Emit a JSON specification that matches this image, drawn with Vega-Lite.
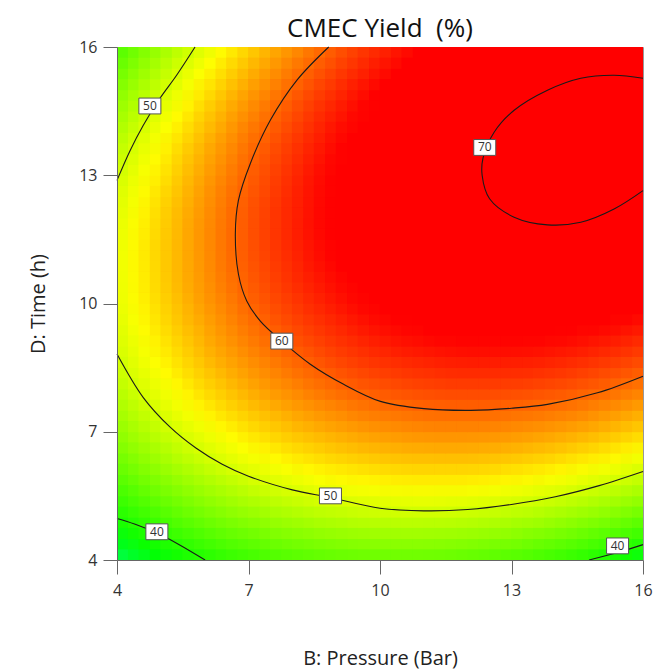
{
  "$schema": "https://vega.github.io/schema/vega-lite/v6.json",
  "width": 526,
  "height": 513,
  "autosize": {"type": "none"},
  "padding": {"left": 117, "top": 47, "right": 12, "bottom": 112},
  "title": {"text": "CMEC Yield\u00a0 (%)", "fontSize": 26, "font": "Open Sans", "fontWeight": "normal", "color": "#111", "anchor": "middle", "baseline": "alphabetic", "offset": 10, "dy": 34},
  "config": {"view": {"stroke": null}, "font": "Open Sans"},
  "datasets": {
    "grid": [
{"b":4.25,"d":4.25,"y":37.6},{"b":4.75,"d":4.25,"y":38.8},{"b":5.25,"d":4.25,"y":39.9},{"b":5.75,"d":4.25,"y":40.9},{"b":6.25,"d":4.25,"y":41.8},{"b":6.75,"d":4.25,"y":42.6},{"b":7.25,"d":4.25,"y":43.3},{"b":7.75,"d":4.25,"y":43.9},{"b":8.25,"d":4.25,"y":44.4},{"b":8.75,"d":4.25,"y":44.8},{"b":9.25,"d":4.25,"y":45.1},{"b":9.75,"d":4.25,"y":45.3},{"b":10.25,"d":4.25,"y":45.4},{"b":10.75,"d":4.25,"y":45.4},{"b":11.25,"d":4.25,"y":45.3},{"b":11.75,"d":4.25,"y":45.1},{"b":12.25,"d":4.25,"y":44.8},{"b":12.75,"d":4.25,"y":44.4},{"b":13.25,"d":4.25,"y":44.0},{"b":13.75,"d":4.25,"y":43.4},{"b":14.25,"d":4.25,"y":42.7},{"b":14.75,"d":4.25,"y":41.9},{"b":15.25,"d":4.25,"y":41.0},{"b":15.75,"d":4.25,"y":40.1},
{"b":4.25,"d":4.75,"y":39.7},{"b":4.75,"d":4.75,"y":40.9},{"b":5.25,"d":4.75,"y":42.1},{"b":5.75,"d":4.75,"y":43.1},{"b":6.25,"d":4.75,"y":44.1},{"b":6.75,"d":4.75,"y":44.9},{"b":7.25,"d":4.75,"y":45.6},{"b":7.75,"d":4.75,"y":46.3},{"b":8.25,"d":4.75,"y":46.8},{"b":8.75,"d":4.75,"y":47.3},{"b":9.25,"d":4.75,"y":47.6},{"b":9.75,"d":4.75,"y":47.9},{"b":10.25,"d":4.75,"y":48.0},{"b":10.75,"d":4.75,"y":48.1},{"b":11.25,"d":4.75,"y":48.0},{"b":11.75,"d":4.75,"y":47.9},{"b":12.25,"d":4.75,"y":47.6},{"b":12.75,"d":4.75,"y":47.3},{"b":13.25,"d":4.75,"y":46.8},{"b":13.75,"d":4.75,"y":46.3},{"b":14.25,"d":4.75,"y":45.7},{"b":14.75,"d":4.75,"y":44.9},{"b":15.25,"d":4.75,"y":44.1},{"b":15.75,"d":4.75,"y":43.1},
{"b":4.25,"d":5.25,"y":41.7},{"b":4.75,"d":5.25,"y":42.9},{"b":5.25,"d":5.25,"y":44.1},{"b":5.75,"d":5.25,"y":45.2},{"b":6.25,"d":5.25,"y":46.2},{"b":6.75,"d":5.25,"y":47.1},{"b":7.25,"d":5.25,"y":47.8},{"b":7.75,"d":5.25,"y":48.5},{"b":8.25,"d":5.25,"y":49.1},{"b":8.75,"d":5.25,"y":49.6},{"b":9.25,"d":5.25,"y":50.0},{"b":9.75,"d":5.25,"y":50.3},{"b":10.25,"d":5.25,"y":50.5},{"b":10.75,"d":5.25,"y":50.6},{"b":11.25,"d":5.25,"y":50.6},{"b":11.75,"d":5.25,"y":50.4},{"b":12.25,"d":5.25,"y":50.2},{"b":12.75,"d":5.25,"y":49.9},{"b":13.25,"d":5.25,"y":49.5},{"b":13.75,"d":5.25,"y":49.0},{"b":14.25,"d":5.25,"y":48.4},{"b":14.75,"d":5.25,"y":47.8},{"b":15.25,"d":5.25,"y":47.0},{"b":15.75,"d":5.25,"y":46.1},
{"b":4.25,"d":5.75,"y":43.4},{"b":4.75,"d":5.75,"y":44.8},{"b":5.25,"d":5.75,"y":46.0},{"b":5.75,"d":5.75,"y":47.1},{"b":6.25,"d":5.75,"y":48.1},{"b":6.75,"d":5.75,"y":49.0},{"b":7.25,"d":5.75,"y":49.9},{"b":7.75,"d":5.75,"y":50.6},{"b":8.25,"d":5.75,"y":51.2},{"b":8.75,"d":5.75,"y":51.8},{"b":9.25,"d":5.75,"y":52.2},{"b":9.75,"d":5.75,"y":52.5},{"b":10.25,"d":5.75,"y":52.8},{"b":10.75,"d":5.75,"y":52.9},{"b":11.25,"d":5.75,"y":52.9},{"b":11.75,"d":5.75,"y":52.9},{"b":12.25,"d":5.75,"y":52.7},{"b":12.75,"d":5.75,"y":52.4},{"b":13.25,"d":5.75,"y":52.1},{"b":13.75,"d":5.75,"y":51.6},{"b":14.25,"d":5.75,"y":51.1},{"b":14.75,"d":5.75,"y":50.4},{"b":15.25,"d":5.75,"y":49.7},{"b":15.75,"d":5.75,"y":48.8},
{"b":4.25,"d":6.25,"y":45.0},{"b":4.75,"d":6.25,"y":46.4},{"b":5.25,"d":6.25,"y":47.7},{"b":5.75,"d":6.25,"y":48.8},{"b":6.25,"d":6.25,"y":49.9},{"b":6.75,"d":6.25,"y":50.9},{"b":7.25,"d":6.25,"y":51.7},{"b":7.75,"d":6.25,"y":52.5},{"b":8.25,"d":6.25,"y":53.2},{"b":8.75,"d":6.25,"y":53.8},{"b":9.25,"d":6.25,"y":54.2},{"b":9.75,"d":6.25,"y":54.6},{"b":10.25,"d":6.25,"y":54.9},{"b":10.75,"d":6.25,"y":55.1},{"b":11.25,"d":6.25,"y":55.1},{"b":11.75,"d":6.25,"y":55.1},{"b":12.25,"d":6.25,"y":55.0},{"b":12.75,"d":6.25,"y":54.8},{"b":13.25,"d":6.25,"y":54.5},{"b":13.75,"d":6.25,"y":54.1},{"b":14.25,"d":6.25,"y":53.5},{"b":14.75,"d":6.25,"y":52.9},{"b":15.25,"d":6.25,"y":52.2},{"b":15.75,"d":6.25,"y":51.4},
{"b":4.25,"d":6.75,"y":46.5},{"b":4.75,"d":6.75,"y":47.9},{"b":5.25,"d":6.75,"y":49.2},{"b":5.75,"d":6.75,"y":50.4},{"b":6.25,"d":6.75,"y":51.5},{"b":6.75,"d":6.75,"y":52.5},{"b":7.25,"d":6.75,"y":53.4},{"b":7.75,"d":6.75,"y":54.3},{"b":8.25,"d":6.75,"y":55.0},{"b":8.75,"d":6.75,"y":55.6},{"b":9.25,"d":6.75,"y":56.1},{"b":9.75,"d":6.75,"y":56.5},{"b":10.25,"d":6.75,"y":56.8},{"b":10.75,"d":6.75,"y":57.1},{"b":11.25,"d":6.75,"y":57.2},{"b":11.75,"d":6.75,"y":57.2},{"b":12.25,"d":6.75,"y":57.1},{"b":12.75,"d":6.75,"y":57.0},{"b":13.25,"d":6.75,"y":56.7},{"b":13.75,"d":6.75,"y":56.3},{"b":14.25,"d":6.75,"y":55.9},{"b":14.75,"d":6.75,"y":55.3},{"b":15.25,"d":6.75,"y":54.6},{"b":15.75,"d":6.75,"y":53.8},
{"b":4.25,"d":7.25,"y":47.8},{"b":4.75,"d":7.25,"y":49.2},{"b":5.25,"d":7.25,"y":50.6},{"b":5.75,"d":7.25,"y":51.8},{"b":6.25,"d":7.25,"y":53.0},{"b":6.75,"d":7.25,"y":54.0},{"b":7.25,"d":7.25,"y":55.0},{"b":7.75,"d":7.25,"y":55.8},{"b":8.25,"d":7.25,"y":56.6},{"b":8.75,"d":7.25,"y":57.3},{"b":9.25,"d":7.25,"y":57.8},{"b":9.75,"d":7.25,"y":58.3},{"b":10.25,"d":7.25,"y":58.6},{"b":10.75,"d":7.25,"y":58.9},{"b":11.25,"d":7.25,"y":59.1},{"b":11.75,"d":7.25,"y":59.1},{"b":12.25,"d":7.25,"y":59.1},{"b":12.75,"d":7.25,"y":59.0},{"b":13.25,"d":7.25,"y":58.7},{"b":13.75,"d":7.25,"y":58.4},{"b":14.25,"d":7.25,"y":58.0},{"b":14.75,"d":7.25,"y":57.5},{"b":15.25,"d":7.25,"y":56.8},{"b":15.75,"d":7.25,"y":56.1},
{"b":4.25,"d":7.75,"y":48.9},{"b":4.75,"d":7.75,"y":50.4},{"b":5.25,"d":7.75,"y":51.8},{"b":5.75,"d":7.75,"y":53.1},{"b":6.25,"d":7.75,"y":54.3},{"b":6.75,"d":7.75,"y":55.4},{"b":7.25,"d":7.75,"y":56.4},{"b":7.75,"d":7.75,"y":57.3},{"b":8.25,"d":7.75,"y":58.1},{"b":8.75,"d":7.75,"y":58.8},{"b":9.25,"d":7.75,"y":59.4},{"b":9.75,"d":7.75,"y":59.9},{"b":10.25,"d":7.75,"y":60.3},{"b":10.75,"d":7.75,"y":60.6},{"b":11.25,"d":7.75,"y":60.8},{"b":11.75,"d":7.75,"y":60.9},{"b":12.25,"d":7.75,"y":60.9},{"b":12.75,"d":7.75,"y":60.8},{"b":13.25,"d":7.75,"y":60.6},{"b":13.75,"d":7.75,"y":60.3},{"b":14.25,"d":7.75,"y":60.0},{"b":14.75,"d":7.75,"y":59.5},{"b":15.25,"d":7.75,"y":58.9},{"b":15.75,"d":7.75,"y":58.2},
{"b":4.25,"d":8.25,"y":49.9},{"b":4.75,"d":8.25,"y":51.4},{"b":5.25,"d":8.25,"y":52.8},{"b":5.75,"d":8.25,"y":54.2},{"b":6.25,"d":8.25,"y":55.4},{"b":6.75,"d":8.25,"y":56.5},{"b":7.25,"d":8.25,"y":57.6},{"b":7.75,"d":8.25,"y":58.5},{"b":8.25,"d":8.25,"y":59.4},{"b":8.75,"d":8.25,"y":60.1},{"b":9.25,"d":8.25,"y":60.8},{"b":9.75,"d":8.25,"y":61.3},{"b":10.25,"d":8.25,"y":61.7},{"b":10.75,"d":8.25,"y":62.1},{"b":11.25,"d":8.25,"y":62.3},{"b":11.75,"d":8.25,"y":62.5},{"b":12.25,"d":8.25,"y":62.5},{"b":12.75,"d":8.25,"y":62.5},{"b":13.25,"d":8.25,"y":62.4},{"b":13.75,"d":8.25,"y":62.1},{"b":14.25,"d":8.25,"y":61.8},{"b":14.75,"d":8.25,"y":61.3},{"b":15.25,"d":8.25,"y":60.8},{"b":15.75,"d":8.25,"y":60.2},
{"b":4.25,"d":8.75,"y":50.7},{"b":4.75,"d":8.75,"y":52.2},{"b":5.25,"d":8.75,"y":53.7},{"b":5.75,"d":8.75,"y":55.1},{"b":6.25,"d":8.75,"y":56.4},{"b":6.75,"d":8.75,"y":57.5},{"b":7.25,"d":8.75,"y":58.6},{"b":7.75,"d":8.75,"y":59.6},{"b":8.25,"d":8.75,"y":60.5},{"b":8.75,"d":8.75,"y":61.3},{"b":9.25,"d":8.75,"y":62.0},{"b":9.75,"d":8.75,"y":62.6},{"b":10.25,"d":8.75,"y":63.0},{"b":10.75,"d":8.75,"y":63.4},{"b":11.25,"d":8.75,"y":63.7},{"b":11.75,"d":8.75,"y":63.9},{"b":12.25,"d":8.75,"y":64.0},{"b":12.75,"d":8.75,"y":64.0},{"b":13.25,"d":8.75,"y":63.9},{"b":13.75,"d":8.75,"y":63.7},{"b":14.25,"d":8.75,"y":63.4},{"b":14.75,"d":8.75,"y":63.0},{"b":15.25,"d":8.75,"y":62.5},{"b":15.75,"d":8.75,"y":61.9},
{"b":4.25,"d":9.25,"y":51.3},{"b":4.75,"d":9.25,"y":52.9},{"b":5.25,"d":9.25,"y":54.4},{"b":5.75,"d":9.25,"y":55.8},{"b":6.25,"d":9.25,"y":57.2},{"b":6.75,"d":9.25,"y":58.4},{"b":7.25,"d":9.25,"y":59.5},{"b":7.75,"d":9.25,"y":60.5},{"b":8.25,"d":9.25,"y":61.5},{"b":8.75,"d":9.25,"y":62.3},{"b":9.25,"d":9.25,"y":63.0},{"b":9.75,"d":9.25,"y":63.7},{"b":10.25,"d":9.25,"y":64.2},{"b":10.75,"d":9.25,"y":64.6},{"b":11.25,"d":9.25,"y":65.0},{"b":11.75,"d":9.25,"y":65.2},{"b":12.25,"d":9.25,"y":65.3},{"b":12.75,"d":9.25,"y":65.4},{"b":13.25,"d":9.25,"y":65.3},{"b":13.75,"d":9.25,"y":65.2},{"b":14.25,"d":9.25,"y":64.9},{"b":14.75,"d":9.25,"y":64.5},{"b":15.25,"d":9.25,"y":64.1},{"b":15.75,"d":9.25,"y":63.5},
{"b":4.25,"d":9.75,"y":51.8},{"b":4.75,"d":9.75,"y":53.4},{"b":5.25,"d":9.75,"y":55.0},{"b":5.75,"d":9.75,"y":56.4},{"b":6.25,"d":9.75,"y":57.8},{"b":6.75,"d":9.75,"y":59.1},{"b":7.25,"d":9.75,"y":60.2},{"b":7.75,"d":9.75,"y":61.3},{"b":8.25,"d":9.75,"y":62.3},{"b":8.75,"d":9.75,"y":63.1},{"b":9.25,"d":9.75,"y":63.9},{"b":9.75,"d":9.75,"y":64.6},{"b":10.25,"d":9.75,"y":65.2},{"b":10.75,"d":9.75,"y":65.6},{"b":11.25,"d":9.75,"y":66.0},{"b":11.75,"d":9.75,"y":66.3},{"b":12.25,"d":9.75,"y":66.5},{"b":12.75,"d":9.75,"y":66.6},{"b":13.25,"d":9.75,"y":66.5},{"b":13.75,"d":9.75,"y":66.4},{"b":14.25,"d":9.75,"y":66.2},{"b":14.75,"d":9.75,"y":65.9},{"b":15.25,"d":9.75,"y":65.5},{"b":15.75,"d":9.75,"y":65.0},
{"b":4.25,"d":10.25,"y":52.1},{"b":4.75,"d":10.25,"y":53.8},{"b":5.25,"d":10.25,"y":55.4},{"b":5.75,"d":10.25,"y":56.9},{"b":6.25,"d":10.25,"y":58.3},{"b":6.75,"d":10.25,"y":59.6},{"b":7.25,"d":10.25,"y":60.8},{"b":7.75,"d":10.25,"y":61.9},{"b":8.25,"d":10.25,"y":62.9},{"b":8.75,"d":10.25,"y":63.8},{"b":9.25,"d":10.25,"y":64.6},{"b":9.75,"d":10.25,"y":65.4},{"b":10.25,"d":10.25,"y":66.0},{"b":10.75,"d":10.25,"y":66.5},{"b":11.25,"d":10.25,"y":66.9},{"b":11.75,"d":10.25,"y":67.2},{"b":12.25,"d":10.25,"y":67.5},{"b":12.75,"d":10.25,"y":67.6},{"b":13.25,"d":10.25,"y":67.6},{"b":13.75,"d":10.25,"y":67.5},{"b":14.25,"d":10.25,"y":67.4},{"b":14.75,"d":10.25,"y":67.1},{"b":15.25,"d":10.25,"y":66.7},{"b":15.75,"d":10.25,"y":66.3},
{"b":4.25,"d":10.75,"y":52.2},{"b":4.75,"d":10.75,"y":53.9},{"b":5.25,"d":10.75,"y":55.6},{"b":5.75,"d":10.75,"y":57.1},{"b":6.25,"d":10.75,"y":58.6},{"b":6.75,"d":10.75,"y":59.9},{"b":7.25,"d":10.75,"y":61.2},{"b":7.75,"d":10.75,"y":62.3},{"b":8.25,"d":10.75,"y":63.4},{"b":8.75,"d":10.75,"y":64.3},{"b":9.25,"d":10.75,"y":65.2},{"b":9.75,"d":10.75,"y":66.0},{"b":10.25,"d":10.75,"y":66.6},{"b":10.75,"d":10.75,"y":67.2},{"b":11.25,"d":10.75,"y":67.6},{"b":11.75,"d":10.75,"y":68.0},{"b":12.25,"d":10.75,"y":68.3},{"b":12.75,"d":10.75,"y":68.4},{"b":13.25,"d":10.75,"y":68.5},{"b":13.75,"d":10.75,"y":68.5},{"b":14.25,"d":10.75,"y":68.4},{"b":14.75,"d":10.75,"y":68.1},{"b":15.25,"d":10.75,"y":67.8},{"b":15.75,"d":10.75,"y":67.4},
{"b":4.25,"d":11.25,"y":52.2},{"b":4.75,"d":11.25,"y":54.0},{"b":5.25,"d":11.25,"y":55.6},{"b":5.75,"d":11.25,"y":57.2},{"b":6.25,"d":11.25,"y":58.7},{"b":6.75,"d":11.25,"y":60.1},{"b":7.25,"d":11.25,"y":61.4},{"b":7.75,"d":11.25,"y":62.6},{"b":8.25,"d":11.25,"y":63.7},{"b":8.75,"d":11.25,"y":64.7},{"b":9.25,"d":11.25,"y":65.6},{"b":9.75,"d":11.25,"y":66.4},{"b":10.25,"d":11.25,"y":67.1},{"b":10.75,"d":11.25,"y":67.7},{"b":11.25,"d":11.25,"y":68.2},{"b":11.75,"d":11.25,"y":68.6},{"b":12.25,"d":11.25,"y":68.9},{"b":12.75,"d":11.25,"y":69.1},{"b":13.25,"d":11.25,"y":69.3},{"b":13.75,"d":11.25,"y":69.3},{"b":14.25,"d":11.25,"y":69.2},{"b":14.75,"d":11.25,"y":69.0},{"b":15.25,"d":11.25,"y":68.7},{"b":15.75,"d":11.25,"y":68.3},
{"b":4.25,"d":11.75,"y":52.0},{"b":4.75,"d":11.75,"y":53.8},{"b":5.25,"d":11.75,"y":55.5},{"b":5.75,"d":11.75,"y":57.2},{"b":6.25,"d":11.75,"y":58.7},{"b":6.75,"d":11.75,"y":60.1},{"b":7.25,"d":11.75,"y":61.5},{"b":7.75,"d":11.75,"y":62.7},{"b":8.25,"d":11.75,"y":63.9},{"b":8.75,"d":11.75,"y":64.9},{"b":9.25,"d":11.75,"y":65.8},{"b":9.75,"d":11.75,"y":66.7},{"b":10.25,"d":11.75,"y":67.4},{"b":10.75,"d":11.75,"y":68.1},{"b":11.25,"d":11.75,"y":68.6},{"b":11.75,"d":11.75,"y":69.1},{"b":12.25,"d":11.75,"y":69.4},{"b":12.75,"d":11.75,"y":69.7},{"b":13.25,"d":11.75,"y":69.8},{"b":13.75,"d":11.75,"y":69.9},{"b":14.25,"d":11.75,"y":69.8},{"b":14.75,"d":11.75,"y":69.7},{"b":15.25,"d":11.75,"y":69.5},{"b":15.75,"d":11.75,"y":69.1},
{"b":4.25,"d":12.25,"y":51.6},{"b":4.75,"d":12.25,"y":53.5},{"b":5.25,"d":12.25,"y":55.3},{"b":5.75,"d":12.25,"y":56.9},{"b":6.25,"d":12.25,"y":58.5},{"b":6.75,"d":12.25,"y":60.0},{"b":7.25,"d":12.25,"y":61.4},{"b":7.75,"d":12.25,"y":62.7},{"b":8.25,"d":12.25,"y":63.8},{"b":8.75,"d":12.25,"y":64.9},{"b":9.25,"d":12.25,"y":65.9},{"b":9.75,"d":12.25,"y":66.8},{"b":10.25,"d":12.25,"y":67.6},{"b":10.75,"d":12.25,"y":68.3},{"b":11.25,"d":12.25,"y":68.9},{"b":11.75,"d":12.25,"y":69.3},{"b":12.25,"d":12.25,"y":69.7},{"b":12.75,"d":12.25,"y":70.0},{"b":13.25,"d":12.25,"y":70.2},{"b":13.75,"d":12.25,"y":70.3},{"b":14.25,"d":12.25,"y":70.3},{"b":14.75,"d":12.25,"y":70.2},{"b":15.25,"d":12.25,"y":70.0},{"b":15.75,"d":12.25,"y":69.7},
{"b":4.25,"d":12.75,"y":51.1},{"b":4.75,"d":12.75,"y":53.0},{"b":5.25,"d":12.75,"y":54.8},{"b":5.75,"d":12.75,"y":56.5},{"b":6.25,"d":12.75,"y":58.2},{"b":6.75,"d":12.75,"y":59.7},{"b":7.25,"d":12.75,"y":61.1},{"b":7.75,"d":12.75,"y":62.4},{"b":8.25,"d":12.75,"y":63.7},{"b":8.75,"d":12.75,"y":64.8},{"b":9.25,"d":12.75,"y":65.8},{"b":9.75,"d":12.75,"y":66.7},{"b":10.25,"d":12.75,"y":67.6},{"b":10.75,"d":12.75,"y":68.3},{"b":11.25,"d":12.75,"y":68.9},{"b":11.75,"d":12.75,"y":69.5},{"b":12.25,"d":12.75,"y":69.9},{"b":12.75,"d":12.75,"y":70.2},{"b":13.25,"d":12.75,"y":70.5},{"b":13.75,"d":12.75,"y":70.6},{"b":14.25,"d":12.75,"y":70.7},{"b":14.75,"d":12.75,"y":70.6},{"b":15.25,"d":12.75,"y":70.4},{"b":15.75,"d":12.75,"y":70.2},
{"b":4.25,"d":13.25,"y":50.4},{"b":4.75,"d":13.25,"y":52.4},{"b":5.25,"d":13.25,"y":54.2},{"b":5.75,"d":13.25,"y":56.0},{"b":6.25,"d":13.25,"y":57.6},{"b":6.75,"d":13.25,"y":59.2},{"b":7.25,"d":13.25,"y":60.7},{"b":7.75,"d":13.25,"y":62.0},{"b":8.25,"d":13.25,"y":63.3},{"b":8.75,"d":13.25,"y":64.5},{"b":9.25,"d":13.25,"y":65.5},{"b":9.75,"d":13.25,"y":66.5},{"b":10.25,"d":13.25,"y":67.4},{"b":10.75,"d":13.25,"y":68.2},{"b":11.25,"d":13.25,"y":68.8},{"b":11.75,"d":13.25,"y":69.4},{"b":12.25,"d":13.25,"y":69.9},{"b":12.75,"d":13.25,"y":70.3},{"b":13.25,"d":13.25,"y":70.6},{"b":13.75,"d":13.25,"y":70.7},{"b":14.25,"d":13.25,"y":70.8},{"b":14.75,"d":13.25,"y":70.8},{"b":15.25,"d":13.25,"y":70.7},{"b":15.75,"d":13.25,"y":70.5},
{"b":4.25,"d":13.75,"y":49.6},{"b":4.75,"d":13.75,"y":51.6},{"b":5.25,"d":13.75,"y":53.5},{"b":5.75,"d":13.75,"y":55.3},{"b":6.25,"d":13.75,"y":57.0},{"b":6.75,"d":13.75,"y":58.6},{"b":7.25,"d":13.75,"y":60.1},{"b":7.75,"d":13.75,"y":61.5},{"b":8.25,"d":13.75,"y":62.8},{"b":8.75,"d":13.75,"y":64.0},{"b":9.25,"d":13.75,"y":65.1},{"b":9.75,"d":13.75,"y":66.1},{"b":10.25,"d":13.75,"y":67.1},{"b":10.75,"d":13.75,"y":67.9},{"b":11.25,"d":13.75,"y":68.6},{"b":11.75,"d":13.75,"y":69.2},{"b":12.25,"d":13.75,"y":69.7},{"b":12.75,"d":13.75,"y":70.1},{"b":13.25,"d":13.75,"y":70.5},{"b":13.75,"d":13.75,"y":70.7},{"b":14.25,"d":13.75,"y":70.8},{"b":14.75,"d":13.75,"y":70.9},{"b":15.25,"d":13.75,"y":70.8},{"b":15.75,"d":13.75,"y":70.6},
{"b":4.25,"d":14.25,"y":48.5},{"b":4.75,"d":14.25,"y":50.6},{"b":5.25,"d":14.25,"y":52.5},{"b":5.75,"d":14.25,"y":54.4},{"b":6.25,"d":14.25,"y":56.1},{"b":6.75,"d":14.25,"y":57.8},{"b":7.25,"d":14.25,"y":59.3},{"b":7.75,"d":14.25,"y":60.8},{"b":8.25,"d":14.25,"y":62.1},{"b":8.75,"d":14.25,"y":63.4},{"b":9.25,"d":14.25,"y":64.5},{"b":9.75,"d":14.25,"y":65.6},{"b":10.25,"d":14.25,"y":66.5},{"b":10.75,"d":14.25,"y":67.4},{"b":11.25,"d":14.25,"y":68.2},{"b":11.75,"d":14.25,"y":68.8},{"b":12.25,"d":14.25,"y":69.4},{"b":12.75,"d":14.25,"y":69.9},{"b":13.25,"d":14.25,"y":70.2},{"b":13.75,"d":14.25,"y":70.5},{"b":14.25,"d":14.25,"y":70.7},{"b":14.75,"d":14.25,"y":70.7},{"b":15.25,"d":14.25,"y":70.7},{"b":15.75,"d":14.25,"y":70.6},
{"b":4.25,"d":14.75,"y":47.4},{"b":4.75,"d":14.75,"y":49.4},{"b":5.25,"d":14.75,"y":51.4},{"b":5.75,"d":14.75,"y":53.3},{"b":6.25,"d":14.75,"y":55.1},{"b":6.75,"d":14.75,"y":56.8},{"b":7.25,"d":14.75,"y":58.4},{"b":7.75,"d":14.75,"y":59.9},{"b":8.25,"d":14.75,"y":61.3},{"b":8.75,"d":14.75,"y":62.6},{"b":9.25,"d":14.75,"y":63.8},{"b":9.75,"d":14.75,"y":64.9},{"b":10.25,"d":14.75,"y":65.9},{"b":10.75,"d":14.75,"y":66.8},{"b":11.25,"d":14.75,"y":67.6},{"b":11.75,"d":14.75,"y":68.3},{"b":12.25,"d":14.75,"y":68.9},{"b":12.75,"d":14.75,"y":69.4},{"b":13.25,"d":14.75,"y":69.8},{"b":13.75,"d":14.75,"y":70.1},{"b":14.25,"d":14.75,"y":70.3},{"b":14.75,"d":14.75,"y":70.4},{"b":15.25,"d":14.75,"y":70.5},{"b":15.75,"d":14.75,"y":70.4},
{"b":4.25,"d":15.25,"y":46.0},{"b":4.75,"d":15.25,"y":48.1},{"b":5.25,"d":15.25,"y":50.2},{"b":5.75,"d":15.25,"y":52.1},{"b":6.25,"d":15.25,"y":53.9},{"b":6.75,"d":15.25,"y":55.7},{"b":7.25,"d":15.25,"y":57.3},{"b":7.75,"d":15.25,"y":58.8},{"b":8.25,"d":15.25,"y":60.3},{"b":8.75,"d":15.25,"y":61.6},{"b":9.25,"d":15.25,"y":62.9},{"b":9.75,"d":15.25,"y":64.0},{"b":10.25,"d":15.25,"y":65.0},{"b":10.75,"d":15.25,"y":66.0},{"b":11.25,"d":15.25,"y":66.8},{"b":11.75,"d":15.25,"y":67.6},{"b":12.25,"d":15.25,"y":68.2},{"b":12.75,"d":15.25,"y":68.8},{"b":13.25,"d":15.25,"y":69.2},{"b":13.75,"d":15.25,"y":69.6},{"b":14.25,"d":15.25,"y":69.8},{"b":14.75,"d":15.25,"y":70.0},{"b":15.25,"d":15.25,"y":70.1},{"b":15.75,"d":15.25,"y":70.0},
{"b":4.25,"d":15.75,"y":44.5},{"b":4.75,"d":15.75,"y":46.7},{"b":5.25,"d":15.75,"y":48.8},{"b":5.75,"d":15.75,"y":50.7},{"b":6.25,"d":15.75,"y":52.6},{"b":6.75,"d":15.75,"y":54.4},{"b":7.25,"d":15.75,"y":56.1},{"b":7.75,"d":15.75,"y":57.6},{"b":8.25,"d":15.75,"y":59.1},{"b":8.75,"d":15.75,"y":60.5},{"b":9.25,"d":15.75,"y":61.8},{"b":9.75,"d":15.75,"y":63.0},{"b":10.25,"d":15.75,"y":64.0},{"b":10.75,"d":15.75,"y":65.0},{"b":11.25,"d":15.75,"y":65.9},{"b":11.75,"d":15.75,"y":66.7},{"b":12.25,"d":15.75,"y":67.4},{"b":12.75,"d":15.75,"y":68.0},{"b":13.25,"d":15.75,"y":68.5},{"b":13.75,"d":15.75,"y":68.9},{"b":14.25,"d":15.75,"y":69.2},{"b":14.75,"d":15.75,"y":69.4},{"b":15.25,"d":15.75,"y":69.5},{"b":15.75,"d":15.75,"y":69.5}
    ],
    "gridB": [
{"b":4,"d":4,"y":35.9},{"b":4.5,"d":4,"y":37.1},{"b":5,"d":4,"y":38.2},{"b":5.5,"d":4,"y":39.2},{"b":6,"d":4,"y":40.1},{"b":6.5,"d":4,"y":41.0},{"b":7,"d":4,"y":41.7},{"b":7.5,"d":4,"y":42.3},{"b":8,"d":4,"y":42.9},{"b":8.5,"d":4,"y":43.3},{"b":9,"d":4,"y":43.6},{"b":9.5,"d":4,"y":43.9},{"b":10,"d":4,"y":44.0},{"b":10.5,"d":4,"y":44.0},{"b":11,"d":4,"y":44.0},{"b":11.5,"d":4,"y":43.8},{"b":12,"d":4,"y":43.5},{"b":12.5,"d":4,"y":43.2},{"b":13,"d":4,"y":42.7},{"b":13.5,"d":4,"y":42.2},{"b":14,"d":4,"y":41.5},{"b":14.5,"d":4,"y":40.8},{"b":15,"d":4,"y":39.9},{"b":15.5,"d":4,"y":39.0},{"b":16,"d":4,"y":37.9},
{"b":4,"d":4.5,"y":38.0},{"b":4.5,"d":4.5,"y":39.3},{"b":5,"d":4.5,"y":40.5},{"b":5.5,"d":4.5,"y":41.5},{"b":6,"d":4.5,"y":42.5},{"b":6.5,"d":4.5,"y":43.4},{"b":7,"d":4.5,"y":44.1},{"b":7.5,"d":4.5,"y":44.8},{"b":8,"d":4.5,"y":45.4},{"b":8.5,"d":4.5,"y":45.8},{"b":9,"d":4.5,"y":46.2},{"b":9.5,"d":4.5,"y":46.5},{"b":10,"d":4.5,"y":46.7},{"b":10.5,"d":4.5,"y":46.7},{"b":11,"d":4.5,"y":46.7},{"b":11.5,"d":4.5,"y":46.6},{"b":12,"d":4.5,"y":46.4},{"b":12.5,"d":4.5,"y":46.1},{"b":13,"d":4.5,"y":45.7},{"b":13.5,"d":4.5,"y":45.1},{"b":14,"d":4.5,"y":44.5},{"b":14.5,"d":4.5,"y":43.8},{"b":15,"d":4.5,"y":43.0},{"b":15.5,"d":4.5,"y":42.1},{"b":16,"d":4.5,"y":41.1},
{"b":4,"d":5,"y":40.0},{"b":4.5,"d":5,"y":41.3},{"b":5,"d":5,"y":42.5},{"b":5.5,"d":5,"y":43.7},{"b":6,"d":5,"y":44.7},{"b":6.5,"d":5,"y":45.6},{"b":7,"d":5,"y":46.4},{"b":7.5,"d":5,"y":47.1},{"b":8,"d":5,"y":47.7},{"b":8.5,"d":5,"y":48.2},{"b":9,"d":5,"y":48.6},{"b":9.5,"d":5,"y":49.0},{"b":10,"d":5,"y":49.2},{"b":10.5,"d":5,"y":49.3},{"b":11,"d":5,"y":49.3},{"b":11.5,"d":5,"y":49.3},{"b":12,"d":5,"y":49.1},{"b":12.5,"d":5,"y":48.8},{"b":13,"d":5,"y":48.4},{"b":13.5,"d":5,"y":48.0},{"b":14,"d":5,"y":47.4},{"b":14.5,"d":5,"y":46.7},{"b":15,"d":5,"y":46.0},{"b":15.5,"d":5,"y":45.1},{"b":16,"d":5,"y":44.1},
{"b":4,"d":5.5,"y":41.9},{"b":4.5,"d":5.5,"y":43.2},{"b":5,"d":5.5,"y":44.5},{"b":5.5,"d":5.5,"y":45.6},{"b":6,"d":5.5,"y":46.7},{"b":6.5,"d":5.5,"y":47.6},{"b":7,"d":5.5,"y":48.5},{"b":7.5,"d":5.5,"y":49.2},{"b":8,"d":5.5,"y":49.9},{"b":8.5,"d":5.5,"y":50.5},{"b":9,"d":5.5,"y":50.9},{"b":9.5,"d":5.5,"y":51.3},{"b":10,"d":5.5,"y":51.5},{"b":10.5,"d":5.5,"y":51.7},{"b":11,"d":5.5,"y":51.8},{"b":11.5,"d":5.5,"y":51.7},{"b":12,"d":5.5,"y":51.6},{"b":12.5,"d":5.5,"y":51.4},{"b":13,"d":5.5,"y":51.0},{"b":13.5,"d":5.5,"y":50.6},{"b":14,"d":5.5,"y":50.1},{"b":14.5,"d":5.5,"y":49.5},{"b":15,"d":5.5,"y":48.7},{"b":15.5,"d":5.5,"y":47.9},{"b":16,"d":5.5,"y":47.0},
{"b":4,"d":6,"y":43.6},{"b":4.5,"d":6,"y":44.9},{"b":5,"d":6,"y":46.2},{"b":5.5,"d":6,"y":47.4},{"b":6,"d":6,"y":48.5},{"b":6.5,"d":6,"y":49.5},{"b":7,"d":6,"y":50.4},{"b":7.5,"d":6,"y":51.2},{"b":8,"d":6,"y":51.9},{"b":8.5,"d":6,"y":52.5},{"b":9,"d":6,"y":53.0},{"b":9.5,"d":6,"y":53.4},{"b":10,"d":6,"y":53.7},{"b":10.5,"d":6,"y":53.9},{"b":11,"d":6,"y":54.0},{"b":11.5,"d":6,"y":54.0},{"b":12,"d":6,"y":54.0},{"b":12.5,"d":6,"y":53.8},{"b":13,"d":6,"y":53.5},{"b":13.5,"d":6,"y":53.1},{"b":14,"d":6,"y":52.6},{"b":14.5,"d":6,"y":52.0},{"b":15,"d":6,"y":51.3},{"b":15.5,"d":6,"y":50.6},{"b":16,"d":6,"y":49.7},
{"b":4,"d":6.5,"y":45.1},{"b":4.5,"d":6.5,"y":46.5},{"b":5,"d":6.5,"y":47.8},{"b":5.5,"d":6.5,"y":49.1},{"b":6,"d":6.5,"y":50.2},{"b":6.5,"d":6.5,"y":51.2},{"b":7,"d":6.5,"y":52.2},{"b":7.5,"d":6.5,"y":53.0},{"b":8,"d":6.5,"y":53.8},{"b":8.5,"d":6.5,"y":54.4},{"b":9,"d":6.5,"y":55.0},{"b":9.5,"d":6.5,"y":55.4},{"b":10,"d":6.5,"y":55.7},{"b":10.5,"d":6.5,"y":56.0},{"b":11,"d":6.5,"y":56.1},{"b":11.5,"d":6.5,"y":56.2},{"b":12,"d":6.5,"y":56.2},{"b":12.5,"d":6.5,"y":56.0},{"b":13,"d":6.5,"y":55.8},{"b":13.5,"d":6.5,"y":55.4},{"b":14,"d":6.5,"y":55.0},{"b":14.5,"d":6.5,"y":54.4},{"b":15,"d":6.5,"y":53.8},{"b":15.5,"d":6.5,"y":53.1},{"b":16,"d":6.5,"y":52.2},
{"b":4,"d":7,"y":46.4},{"b":4.5,"d":7,"y":47.9},{"b":5,"d":7,"y":49.3},{"b":5.5,"d":7,"y":50.5},{"b":6,"d":7,"y":51.7},{"b":6.5,"d":7,"y":52.8},{"b":7,"d":7,"y":53.8},{"b":7.5,"d":7,"y":54.7},{"b":8,"d":7,"y":55.5},{"b":8.5,"d":7,"y":56.1},{"b":9,"d":7,"y":56.7},{"b":9.5,"d":7,"y":57.2},{"b":10,"d":7,"y":57.6},{"b":10.5,"d":7,"y":57.9},{"b":11,"d":7,"y":58.1},{"b":11.5,"d":7,"y":58.2},{"b":12,"d":7,"y":58.2},{"b":12.5,"d":7,"y":58.1},{"b":13,"d":7,"y":57.9},{"b":13.5,"d":7,"y":57.6},{"b":14,"d":7,"y":57.2},{"b":14.5,"d":7,"y":56.7},{"b":15,"d":7,"y":56.1},{"b":15.5,"d":7,"y":55.4},{"b":16,"d":7,"y":54.6},
{"b":4,"d":7.5,"y":47.6},{"b":4.5,"d":7.5,"y":49.1},{"b":5,"d":7.5,"y":50.5},{"b":5.5,"d":7.5,"y":51.9},{"b":6,"d":7.5,"y":53.1},{"b":6.5,"d":7.5,"y":54.2},{"b":7,"d":7.5,"y":55.2},{"b":7.5,"d":7.5,"y":56.1},{"b":8,"d":7.5,"y":57.0},{"b":8.5,"d":7.5,"y":57.7},{"b":9,"d":7.5,"y":58.3},{"b":9.5,"d":7.5,"y":58.9},{"b":10,"d":7.5,"y":59.3},{"b":10.5,"d":7.5,"y":59.6},{"b":11,"d":7.5,"y":59.9},{"b":11.5,"d":7.5,"y":60.0},{"b":12,"d":7.5,"y":60.0},{"b":12.5,"d":7.5,"y":60.0},{"b":13,"d":7.5,"y":59.8},{"b":13.5,"d":7.5,"y":59.6},{"b":14,"d":7.5,"y":59.2},{"b":14.5,"d":7.5,"y":58.8},{"b":15,"d":7.5,"y":58.2},{"b":15.5,"d":7.5,"y":57.6},{"b":16,"d":7.5,"y":56.8},
{"b":4,"d":8,"y":48.6},{"b":4.5,"d":8,"y":50.2},{"b":5,"d":8,"y":51.6},{"b":5.5,"d":8,"y":53.0},{"b":6,"d":8,"y":54.3},{"b":6.5,"d":8,"y":55.4},{"b":7,"d":8,"y":56.5},{"b":7.5,"d":8,"y":57.5},{"b":8,"d":8,"y":58.3},{"b":8.5,"d":8,"y":59.1},{"b":9,"d":8,"y":59.8},{"b":9.5,"d":8,"y":60.4},{"b":10,"d":8,"y":60.8},{"b":10.5,"d":8,"y":61.2},{"b":11,"d":8,"y":61.5},{"b":11.5,"d":8,"y":61.7},{"b":12,"d":8,"y":61.7},{"b":12.5,"d":8,"y":61.7},{"b":13,"d":8,"y":61.6},{"b":13.5,"d":8,"y":61.4},{"b":14,"d":8,"y":61.1},{"b":14.5,"d":8,"y":60.7},{"b":15,"d":8,"y":60.2},{"b":15.5,"d":8,"y":59.5},{"b":16,"d":8,"y":58.8},
{"b":4,"d":8.5,"y":49.5},{"b":4.5,"d":8.5,"y":51.1},{"b":5,"d":8.5,"y":52.6},{"b":5.5,"d":8.5,"y":54.0},{"b":6,"d":8.5,"y":55.3},{"b":6.5,"d":8.5,"y":56.5},{"b":7,"d":8.5,"y":57.6},{"b":7.5,"d":8.5,"y":58.6},{"b":8,"d":8.5,"y":59.5},{"b":8.5,"d":8.5,"y":60.3},{"b":9,"d":8.5,"y":61.1},{"b":9.5,"d":8.5,"y":61.7},{"b":10,"d":8.5,"y":62.2},{"b":10.5,"d":8.5,"y":62.6},{"b":11,"d":8.5,"y":62.9},{"b":11.5,"d":8.5,"y":63.2},{"b":12,"d":8.5,"y":63.3},{"b":12.5,"d":8.5,"y":63.3},{"b":13,"d":8.5,"y":63.2},{"b":13.5,"d":8.5,"y":63.1},{"b":14,"d":8.5,"y":62.8},{"b":14.5,"d":8.5,"y":62.4},{"b":15,"d":8.5,"y":61.9},{"b":15.5,"d":8.5,"y":61.4},{"b":16,"d":8.5,"y":60.7},
{"b":4,"d":9,"y":50.2},{"b":4.5,"d":9,"y":51.8},{"b":5,"d":9,"y":53.4},{"b":5.5,"d":9,"y":54.8},{"b":6,"d":9,"y":56.2},{"b":6.5,"d":9,"y":57.4},{"b":7,"d":9,"y":58.6},{"b":7.5,"d":9,"y":59.6},{"b":8,"d":9,"y":60.6},{"b":8.5,"d":9,"y":61.4},{"b":9,"d":9,"y":62.2},{"b":9.5,"d":9,"y":62.8},{"b":10,"d":9,"y":63.4},{"b":10.5,"d":9,"y":63.9},{"b":11,"d":9,"y":64.2},{"b":11.5,"d":9,"y":64.5},{"b":12,"d":9,"y":64.7},{"b":12.5,"d":9,"y":64.7},{"b":13,"d":9,"y":64.7},{"b":13.5,"d":9,"y":64.6},{"b":14,"d":9,"y":64.3},{"b":14.5,"d":9,"y":64.0},{"b":15,"d":9,"y":63.6},{"b":15.5,"d":9,"y":63.1},{"b":16,"d":9,"y":62.4},
{"b":4,"d":9.5,"y":50.7},{"b":4.5,"d":9.5,"y":52.4},{"b":5,"d":9.5,"y":54.0},{"b":5.5,"d":9.5,"y":55.5},{"b":6,"d":9.5,"y":56.8},{"b":6.5,"d":9.5,"y":58.1},{"b":7,"d":9.5,"y":59.3},{"b":7.5,"d":9.5,"y":60.4},{"b":8,"d":9.5,"y":61.4},{"b":8.5,"d":9.5,"y":62.3},{"b":9,"d":9.5,"y":63.1},{"b":9.5,"d":9.5,"y":63.8},{"b":10,"d":9.5,"y":64.4},{"b":10.5,"d":9.5,"y":64.9},{"b":11,"d":9.5,"y":65.3},{"b":11.5,"d":9.5,"y":65.7},{"b":12,"d":9.5,"y":65.9},{"b":12.5,"d":9.5,"y":66.0},{"b":13,"d":9.5,"y":66.0},{"b":13.5,"d":9.5,"y":65.9},{"b":14,"d":9.5,"y":65.7},{"b":14.5,"d":9.5,"y":65.4},{"b":15,"d":9.5,"y":65.0},{"b":15.5,"d":9.5,"y":64.6},{"b":16,"d":9.5,"y":64.0},
{"b":4,"d":10,"y":51.1},{"b":4.5,"d":10,"y":52.8},{"b":5,"d":10,"y":54.4},{"b":5.5,"d":10,"y":55.9},{"b":6,"d":10,"y":57.4},{"b":6.5,"d":10,"y":58.7},{"b":7,"d":10,"y":60.0},{"b":7.5,"d":10,"y":61.1},{"b":8,"d":10,"y":62.1},{"b":8.5,"d":10,"y":63.1},{"b":9,"d":10,"y":63.9},{"b":9.5,"d":10,"y":64.7},{"b":10,"d":10,"y":65.3},{"b":10.5,"d":10,"y":65.9},{"b":11,"d":10,"y":66.3},{"b":11.5,"d":10,"y":66.7},{"b":12,"d":10,"y":66.9},{"b":12.5,"d":10,"y":67.1},{"b":13,"d":10,"y":67.1},{"b":13.5,"d":10,"y":67.1},{"b":14,"d":10,"y":66.9},{"b":14.5,"d":10,"y":66.7},{"b":15,"d":10,"y":66.3},{"b":15.5,"d":10,"y":65.9},{"b":16,"d":10,"y":65.4},
{"b":4,"d":10.5,"y":51.2},{"b":4.5,"d":10.5,"y":53.0},{"b":5,"d":10.5,"y":54.7},{"b":5.5,"d":10.5,"y":56.3},{"b":6,"d":10.5,"y":57.7},{"b":6.5,"d":10.5,"y":59.1},{"b":7,"d":10.5,"y":60.4},{"b":7.5,"d":10.5,"y":61.6},{"b":8,"d":10.5,"y":62.7},{"b":8.5,"d":10.5,"y":63.7},{"b":9,"d":10.5,"y":64.5},{"b":9.5,"d":10.5,"y":65.3},{"b":10,"d":10.5,"y":66.0},{"b":10.5,"d":10.5,"y":66.6},{"b":11,"d":10.5,"y":67.1},{"b":11.5,"d":10.5,"y":67.5},{"b":12,"d":10.5,"y":67.8},{"b":12.5,"d":10.5,"y":68.0},{"b":13,"d":10.5,"y":68.1},{"b":13.5,"d":10.5,"y":68.1},{"b":14,"d":10.5,"y":68.0},{"b":14.5,"d":10.5,"y":67.8},{"b":15,"d":10.5,"y":67.5},{"b":15.5,"d":10.5,"y":67.1},{"b":16,"d":10.5,"y":66.6},
{"b":4,"d":11,"y":51.3},{"b":4.5,"d":11,"y":53.1},{"b":5,"d":11,"y":54.8},{"b":5.5,"d":11,"y":56.4},{"b":6,"d":11,"y":57.9},{"b":6.5,"d":11,"y":59.4},{"b":7,"d":11,"y":60.7},{"b":7.5,"d":11,"y":61.9},{"b":8,"d":11,"y":63.0},{"b":8.5,"d":11,"y":64.1},{"b":9,"d":11,"y":65.0},{"b":9.5,"d":11,"y":65.8},{"b":10,"d":11,"y":66.6},{"b":10.5,"d":11,"y":67.2},{"b":11,"d":11,"y":67.7},{"b":11.5,"d":11,"y":68.2},{"b":12,"d":11,"y":68.5},{"b":12.5,"d":11,"y":68.7},{"b":13,"d":11,"y":68.9},{"b":13.5,"d":11,"y":68.9},{"b":14,"d":11,"y":68.9},{"b":14.5,"d":11,"y":68.7},{"b":15,"d":11,"y":68.4},{"b":15.5,"d":11,"y":68.1},{"b":16,"d":11,"y":67.6},
{"b":4,"d":11.5,"y":51.1},{"b":4.5,"d":11.5,"y":53.0},{"b":5,"d":11.5,"y":54.8},{"b":5.5,"d":11.5,"y":56.4},{"b":6,"d":11.5,"y":58.0},{"b":6.5,"d":11.5,"y":59.5},{"b":7,"d":11.5,"y":60.8},{"b":7.5,"d":11.5,"y":62.1},{"b":8,"d":11.5,"y":63.3},{"b":8.5,"d":11.5,"y":64.3},{"b":9,"d":11.5,"y":65.3},{"b":9.5,"d":11.5,"y":66.2},{"b":10,"d":11.5,"y":66.9},{"b":10.5,"d":11.5,"y":67.6},{"b":11,"d":11.5,"y":68.2},{"b":11.5,"d":11.5,"y":68.7},{"b":12,"d":11.5,"y":69.0},{"b":12.5,"d":11.5,"y":69.3},{"b":13,"d":11.5,"y":69.5},{"b":13.5,"d":11.5,"y":69.6},{"b":14,"d":11.5,"y":69.6},{"b":14.5,"d":11.5,"y":69.5},{"b":15,"d":11.5,"y":69.2},{"b":15.5,"d":11.5,"y":68.9},{"b":16,"d":11.5,"y":68.5},
{"b":4,"d":12,"y":50.9},{"b":4.5,"d":12,"y":52.8},{"b":5,"d":12,"y":54.6},{"b":5.5,"d":12,"y":56.3},{"b":6,"d":12,"y":57.9},{"b":6.5,"d":12,"y":59.4},{"b":7,"d":12,"y":60.8},{"b":7.5,"d":12,"y":62.1},{"b":8,"d":12,"y":63.3},{"b":8.5,"d":12,"y":64.4},{"b":9,"d":12,"y":65.4},{"b":9.5,"d":12,"y":66.3},{"b":10,"d":12,"y":67.1},{"b":10.5,"d":12,"y":67.9},{"b":11,"d":12,"y":68.5},{"b":11.5,"d":12,"y":69.0},{"b":12,"d":12,"y":69.4},{"b":12.5,"d":12,"y":69.7},{"b":13,"d":12,"y":70.0},{"b":13.5,"d":12,"y":70.1},{"b":14,"d":12,"y":70.1},{"b":14.5,"d":12,"y":70.1},{"b":15,"d":12,"y":69.9},{"b":15.5,"d":12,"y":69.6},{"b":16,"d":12,"y":69.2},
{"b":4,"d":12.5,"y":50.4},{"b":4.5,"d":12.5,"y":52.3},{"b":5,"d":12.5,"y":54.2},{"b":5.5,"d":12.5,"y":55.9},{"b":6,"d":12.5,"y":57.6},{"b":6.5,"d":12.5,"y":59.1},{"b":7,"d":12.5,"y":60.6},{"b":7.5,"d":12.5,"y":61.9},{"b":8,"d":12.5,"y":63.2},{"b":8.5,"d":12.5,"y":64.3},{"b":9,"d":12.5,"y":65.4},{"b":9.5,"d":12.5,"y":66.3},{"b":10,"d":12.5,"y":67.2},{"b":10.5,"d":12.5,"y":68.0},{"b":11,"d":12.5,"y":68.6},{"b":11.5,"d":12.5,"y":69.2},{"b":12,"d":12.5,"y":69.6},{"b":12.5,"d":12.5,"y":70.0},{"b":13,"d":12.5,"y":70.3},{"b":13.5,"d":12.5,"y":70.4},{"b":14,"d":12.5,"y":70.5},{"b":14.5,"d":12.5,"y":70.5},{"b":15,"d":12.5,"y":70.4},{"b":15.5,"d":12.5,"y":70.1},{"b":16,"d":12.5,"y":69.8},
{"b":4,"d":13,"y":49.8},{"b":4.5,"d":13,"y":51.8},{"b":5,"d":13,"y":53.6},{"b":5.5,"d":13,"y":55.4},{"b":6,"d":13,"y":57.1},{"b":6.5,"d":13,"y":58.7},{"b":7,"d":13,"y":60.2},{"b":7.5,"d":13,"y":61.6},{"b":8,"d":13,"y":62.9},{"b":8.5,"d":13,"y":64.1},{"b":9,"d":13,"y":65.2},{"b":9.5,"d":13,"y":66.2},{"b":10,"d":13,"y":67.1},{"b":10.5,"d":13,"y":67.9},{"b":11,"d":13,"y":68.6},{"b":11.5,"d":13,"y":69.2},{"b":12,"d":13,"y":69.7},{"b":12.5,"d":13,"y":70.1},{"b":13,"d":13,"y":70.4},{"b":13.5,"d":13,"y":70.6},{"b":14,"d":13,"y":70.7},{"b":14.5,"d":13,"y":70.8},{"b":15,"d":13,"y":70.7},{"b":15.5,"d":13,"y":70.5},{"b":16,"d":13,"y":70.2},
{"b":4,"d":13.5,"y":49.0},{"b":4.5,"d":13.5,"y":51.0},{"b":5,"d":13.5,"y":52.9},{"b":5.5,"d":13.5,"y":54.8},{"b":6,"d":13.5,"y":56.5},{"b":6.5,"d":13.5,"y":58.1},{"b":7,"d":13.5,"y":59.7},{"b":7.5,"d":13.5,"y":61.1},{"b":8,"d":13.5,"y":62.4},{"b":8.5,"d":13.5,"y":63.7},{"b":9,"d":13.5,"y":64.8},{"b":9.5,"d":13.5,"y":65.9},{"b":10,"d":13.5,"y":66.8},{"b":10.5,"d":13.5,"y":67.7},{"b":11,"d":13.5,"y":68.4},{"b":11.5,"d":13.5,"y":69.0},{"b":12,"d":13.5,"y":69.6},{"b":12.5,"d":13.5,"y":70.0},{"b":13,"d":13.5,"y":70.4},{"b":13.5,"d":13.5,"y":70.7},{"b":14,"d":13.5,"y":70.8},{"b":14.5,"d":13.5,"y":70.9},{"b":15,"d":13.5,"y":70.8},{"b":15.5,"d":13.5,"y":70.7},{"b":16,"d":13.5,"y":70.4},
{"b":4,"d":14,"y":48.0},{"b":4.5,"d":14,"y":50.1},{"b":5,"d":14,"y":52.1},{"b":5.5,"d":14,"y":53.9},{"b":6,"d":14,"y":55.7},{"b":6.5,"d":14,"y":57.4},{"b":7,"d":14,"y":59.0},{"b":7.5,"d":14,"y":60.4},{"b":8,"d":14,"y":61.8},{"b":8.5,"d":14,"y":63.1},{"b":9,"d":14,"y":64.3},{"b":9.5,"d":14,"y":65.4},{"b":10,"d":14,"y":66.4},{"b":10.5,"d":14,"y":67.3},{"b":11,"d":14,"y":68.0},{"b":11.5,"d":14,"y":68.7},{"b":12,"d":14,"y":69.3},{"b":12.5,"d":14,"y":69.8},{"b":13,"d":14,"y":70.2},{"b":13.5,"d":14,"y":70.5},{"b":14,"d":14,"y":70.7},{"b":14.5,"d":14,"y":70.8},{"b":15,"d":14,"y":70.8},{"b":15.5,"d":14,"y":70.7},{"b":16,"d":14,"y":70.5},
{"b":4,"d":14.5,"y":46.9},{"b":4.5,"d":14.5,"y":49.0},{"b":5,"d":14.5,"y":51.0},{"b":5.5,"d":14.5,"y":52.9},{"b":6,"d":14.5,"y":54.8},{"b":6.5,"d":14.5,"y":56.5},{"b":7,"d":14.5,"y":58.1},{"b":7.5,"d":14.5,"y":59.6},{"b":8,"d":14.5,"y":61.0},{"b":8.5,"d":14.5,"y":62.4},{"b":9,"d":14.5,"y":63.6},{"b":9.5,"d":14.5,"y":64.7},{"b":10,"d":14.5,"y":65.8},{"b":10.5,"d":14.5,"y":66.7},{"b":11,"d":14.5,"y":67.5},{"b":11.5,"d":14.5,"y":68.2},{"b":12,"d":14.5,"y":68.9},{"b":12.5,"d":14.5,"y":69.4},{"b":13,"d":14.5,"y":69.9},{"b":13.5,"d":14.5,"y":70.2},{"b":14,"d":14.5,"y":70.4},{"b":14.5,"d":14.5,"y":70.6},{"b":15,"d":14.5,"y":70.6},{"b":15.5,"d":14.5,"y":70.6},{"b":16,"d":14.5,"y":70.4},
{"b":4,"d":15,"y":45.6},{"b":4.5,"d":15,"y":47.8},{"b":5,"d":15,"y":49.8},{"b":5.5,"d":15,"y":51.8},{"b":6,"d":15,"y":53.7},{"b":6.5,"d":15,"y":55.4},{"b":7,"d":15,"y":57.1},{"b":7.5,"d":15,"y":58.6},{"b":8,"d":15,"y":60.1},{"b":8.5,"d":15,"y":61.5},{"b":9,"d":15,"y":62.7},{"b":9.5,"d":15,"y":63.9},{"b":10,"d":15,"y":65.0},{"b":10.5,"d":15,"y":66.0},{"b":11,"d":15,"y":66.8},{"b":11.5,"d":15,"y":67.6},{"b":12,"d":15,"y":68.3},{"b":12.5,"d":15,"y":68.9},{"b":13,"d":15,"y":69.3},{"b":13.5,"d":15,"y":69.7},{"b":14,"d":15,"y":70.0},{"b":14.5,"d":15,"y":70.2},{"b":15,"d":15,"y":70.3},{"b":15.5,"d":15,"y":70.3},{"b":16,"d":15,"y":70.1},
{"b":4,"d":15.5,"y":44.2},{"b":4.5,"d":15.5,"y":46.4},{"b":5,"d":15.5,"y":48.5},{"b":5.5,"d":15.5,"y":50.5},{"b":6,"d":15.5,"y":52.4},{"b":6.5,"d":15.5,"y":54.2},{"b":7,"d":15.5,"y":55.9},{"b":7.5,"d":15.5,"y":57.5},{"b":8,"d":15.5,"y":59.0},{"b":8.5,"d":15.5,"y":60.4},{"b":9,"d":15.5,"y":61.7},{"b":9.5,"d":15.5,"y":62.9},{"b":10,"d":15.5,"y":64.0},{"b":10.5,"d":15.5,"y":65.1},{"b":11,"d":15.5,"y":66.0},{"b":11.5,"d":15.5,"y":66.8},{"b":12,"d":15.5,"y":67.5},{"b":12.5,"d":15.5,"y":68.1},{"b":13,"d":15.5,"y":68.7},{"b":13.5,"d":15.5,"y":69.1},{"b":14,"d":15.5,"y":69.4},{"b":14.5,"d":15.5,"y":69.6},{"b":15,"d":15.5,"y":69.8},{"b":15.5,"d":15.5,"y":69.8},{"b":16,"d":15.5,"y":69.7},
{"b":4,"d":16,"y":42.6},{"b":4.5,"d":16,"y":44.8},{"b":5,"d":16,"y":46.9},{"b":5.5,"d":16,"y":49.0},{"b":6,"d":16,"y":50.9},{"b":6.5,"d":16,"y":52.8},{"b":7,"d":16,"y":54.5},{"b":7.5,"d":16,"y":56.2},{"b":8,"d":16,"y":57.7},{"b":8.5,"d":16,"y":59.2},{"b":9,"d":16,"y":60.5},{"b":9.5,"d":16,"y":61.8},{"b":10,"d":16,"y":62.9},{"b":10.5,"d":16,"y":64.0},{"b":11,"d":16,"y":65.0},{"b":11.5,"d":16,"y":65.8},{"b":12,"d":16,"y":66.6},{"b":12.5,"d":16,"y":67.2},{"b":13,"d":16,"y":67.8},{"b":13.5,"d":16,"y":68.3},{"b":14,"d":16,"y":68.6},{"b":14.5,"d":16,"y":68.9},{"b":15,"d":16,"y":69.1},{"b":15.5,"d":16,"y":69.2},{"b":16,"d":16,"y":69.1}
    ],
    "contours": [
{"c":"50a","k":0,"b":4.0,"d":12.88},{"c":"50a","k":1,"b":4.3,"d":13.58},{"c":"50a","k":2,"b":4.6,"d":14.17},{"c":"50a","k":3,"b":4.98,"d":14.8},{"c":"50a","k":4,"b":5.36,"d":15.34},{"c":"50a","k":5,"b":5.78,"d":16.0},
{"c":"60","k":0,"b":8.83,"d":16.0},{"c":"60","k":1,"b":8.11,"d":15.23},{"c":"60","k":2,"b":7.5,"d":14.29},{"c":"60","k":3,"b":7.04,"d":13.27},{"c":"60","k":4,"b":6.77,"d":12.41},{"c":"60","k":5,"b":6.7,"d":11.63},{"c":"60","k":6,"b":6.77,"d":10.69},{"c":"60","k":7,"b":6.96,"d":10.06},{"c":"60","k":8,"b":7.27,"d":9.59},{"c":"60","k":9,"b":7.76,"d":9.12},{"c":"60","k":10,"b":8.41,"d":8.58},{"c":"60","k":11,"b":9.17,"d":8.11},{"c":"60","k":12,"b":10.01,"d":7.71},{"c":"60","k":13,"b":11.0,"d":7.54},{"c":"60","k":14,"b":12.07,"d":7.5},{"c":"60","k":15,"b":13.0,"d":7.55},{"c":"60","k":16,"b":13.82,"d":7.64},{"c":"60","k":17,"b":14.96,"d":7.91},{"c":"60","k":18,"b":16.0,"d":8.3},
{"c":"70","k":0,"b":16.0,"d":15.27},{"c":"70","k":1,"b":15.34,"d":15.34},{"c":"70","k":2,"b":14.58,"d":15.27},{"c":"70","k":3,"b":13.82,"d":14.99},{"c":"70","k":4,"b":13.06,"d":14.52},{"c":"70","k":5,"b":12.6,"d":14.0},{"c":"70","k":6,"b":12.35,"d":13.4},{"c":"70","k":7,"b":12.33,"d":13.0},{"c":"70","k":8,"b":12.5,"d":12.45},{"c":"70","k":9,"b":13.06,"d":12.02},{"c":"70","k":10,"b":13.82,"d":11.84},{"c":"70","k":11,"b":14.58,"d":11.9},{"c":"70","k":12,"b":15.34,"d":12.21},{"c":"70","k":13,"b":16.0,"d":12.64},
{"c":"50b","k":0,"b":4.0,"d":8.82},{"c":"50b","k":1,"b":4.6,"d":7.8},{"c":"50b","k":2,"b":5.2,"d":7.12},{"c":"50b","k":3,"b":5.8,"d":6.62},{"c":"50b","k":4,"b":6.4,"d":6.24},{"c":"50b","k":5,"b":7.0,"d":5.96},{"c":"50b","k":6,"b":8.0,"d":5.64},{"c":"50b","k":7,"b":8.87,"d":5.46},{"c":"50b","k":8,"b":10.0,"d":5.21},{"c":"50b","k":9,"b":11.0,"d":5.15},{"c":"50b","k":10,"b":12.0,"d":5.18},{"c":"50b","k":11,"b":13.0,"d":5.3},{"c":"50b","k":12,"b":14.0,"d":5.48},{"c":"50b","k":13,"b":15.0,"d":5.74},{"c":"50b","k":14,"b":16.0,"d":6.07},
{"c":"40a","k":0,"b":4.0,"d":4.97},{"c":"40a","k":1,"b":4.4,"d":4.84},{"c":"40a","k":2,"b":4.91,"d":4.63},{"c":"40a","k":3,"b":5.4,"d":4.37},{"c":"40a","k":4,"b":6.01,"d":4.0},
{"c":"40b","k":0,"b":14.77,"d":4.0},{"c":"40b","k":1,"b":15.34,"d":4.15},{"c":"40b","k":2,"b":16.0,"d":4.36}
    ],
    "labels": [
{"t":"50","b":4.75,"d":14.62},{"t":"60","b":7.76,"d":9.12},{"t":"70","b":12.39,"d":13.65},{"t":"50","b":8.87,"d":5.5},{"t":"40","b":4.91,"d":4.66},{"t":"40","b":15.42,"d":4.33}
    ]
  },
  "layer": [
    {
      "data": {"name": "grid"},
      "transform": [
        {"calculate": "clamp(datum.b - 0.26, 4, 16)", "as": "b0"},
        {"calculate": "clamp(datum.b + 0.26, 4, 16)", "as": "b1"},
        {"calculate": "clamp(datum.d - 0.26, 4, 16)", "as": "d0"},
        {"calculate": "clamp(datum.d + 0.26, 4, 16)", "as": "d1"}
      ],
      "mark": {"type": "rect"},
      "encoding": {
        "x": {"field": "b0", "type": "quantitative", "title": "B: Pressure (Bar)",
              "scale": {"domain": [4, 16], "nice": false, "zero": false},
              "axis": {"values": [4, 7, 10, 13, 16], "tickSize": 14, "tickColor": "#666", "domainColor": "#666", "labelFontSize": 16, "labelColor": "#333", "labelPadding": 8, "labelFlush": false, "titleFontSize": 20, "titleFontWeight": "normal", "titleColor": "#222", "titlePadding": 50, "grid": false, "zindex": 1}},
        "x2": {"field": "b1"},
        "y": {"field": "d0", "type": "quantitative", "title": "D: Time (h)",
              "scale": {"domain": [4, 16], "nice": false, "zero": false},
              "axis": {"values": [4, 7, 10, 13, 16], "tickSize": 14, "tickColor": "#666", "domainColor": "#666", "labelFontSize": 16, "labelColor": "#333", "labelPadding": 6, "labelFlush": false, "titleFontSize": 20, "titleFontWeight": "normal", "titleColor": "#222", "titlePadding": 30, "grid": false, "zindex": 1}},
        "y2": {"field": "d1"},
        "color": {"field": "y", "type": "quantitative", "legend": null,
                  "scale": {"domain": [34, 38.5, 52.5, 65], "range": ["#00ff99", "#00ff00", "#ffff00", "#ff0000"], "clamp": true, "interpolate": "rgb"}}
      }
    },
    {
      "data": {"name": "gridB"},
      "transform": [
        {"calculate": "clamp(datum.b - 0.25, 4, 16)", "as": "b0"},
        {"calculate": "clamp(datum.b + 0.25, 4, 16)", "as": "b1"},
        {"calculate": "clamp(datum.d - 0.25, 4, 16)", "as": "d0"},
        {"calculate": "clamp(datum.d + 0.25, 4, 16)", "as": "d1"}
      ],
      "mark": {"type": "rect", "opacity": 0.5},
      "encoding": {
        "x": {"field": "b0", "type": "quantitative", "axis": null},
        "x2": {"field": "b1"},
        "y": {"field": "d0", "type": "quantitative", "axis": null},
        "y2": {"field": "d1"},
        "color": {"field": "y", "type": "quantitative", "legend": null}
      }
    },
    {
      "data": {"name": "contours"},
      "mark": {"type": "line", "interpolate": "catmull-rom", "color": "#1a1a1a", "strokeWidth": 1.1},
      "encoding": {
        "x": {"field": "b", "type": "quantitative", "axis": {"orient": "top", "labels": false, "ticks": false, "title": null, "domainColor": "#999", "grid": false}},
        "y": {"field": "d", "type": "quantitative", "axis": {"orient": "right", "labels": false, "ticks": false, "title": null, "domainColor": "#999", "grid": false}},
        "detail": {"field": "c"},
        "order": {"field": "k"}
      }
    },
    {
      "data": {"name": "labels"},
      "mark": {"type": "point", "shape": "M-1,-0.72H1V0.72H-1Z", "size": 484, "filled": true, "fill": "white", "stroke": "#555", "strokeWidth": 1, "opacity": 1},
      "encoding": {
        "x": {"field": "b", "type": "quantitative", "axis": null},
        "y": {"field": "d", "type": "quantitative", "axis": null}
      }
    },
    {
      "data": {"name": "labels"},
      "mark": {"type": "text", "fontSize": 12, "color": "#333", "align": "center", "baseline": "middle"},
      "encoding": {
        "x": {"field": "b", "type": "quantitative", "axis": null},
        "y": {"field": "d", "type": "quantitative", "axis": null},
        "text": {"field": "t"}
      }
    }
  ],
  "resolve": {"axis": {"x": "independent", "y": "independent"}}
}
